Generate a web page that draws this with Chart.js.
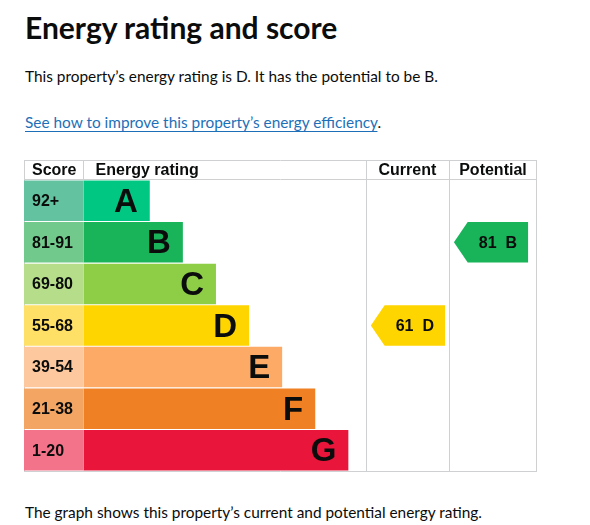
<!DOCTYPE html>
<html>
<head>
<meta charset="utf-8">
<script src="https://cdn.jsdelivr.net/npm/chart.js@4.4.1/dist/chart.umd.min.js"></script>
<style>
  body { margin: 0; background: #fff; color: #0b0c0c; font-family: Lato, "Noto Sans", sans-serif; }
  .txt { position: absolute; left: 25px; white-space: nowrap; }
  #title { top: 12px; font-size: 30px; line-height: 30px; font-weight: 700; }
  #intro { top: 68px; font-size: 15.4px; line-height: 16px; }
  #link { top: 114px; font-size: 15.4px; line-height: 16px; }
  #link a { color: #1d70b8; text-decoration: underline; text-underline-offset: 3px; }
  #foot { top: 504px; font-size: 15.4px; line-height: 16px; }
  #wrap { position: absolute; left: 14px; top: 150px; width: 534px; height: 331px; }
</style>
</head>
<body>
<div class="txt" id="title">Energy rating and score</div>
<div class="txt" id="intro">This property’s energy rating is D. It has the potential to be B.</div>
<div class="txt" id="link"><a href="#">See how to improve this property’s energy efficiency</a>.</div>
<div id="wrap"><canvas id="epcChart"></canvas></div>
<div class="txt" id="foot">The graph shows this property’s current and potential energy rating.</div>

<script>
// bands, top to bottom
var bands = ['A', 'B', 'C', 'D', 'E', 'F', 'G'];
var scoreLabels = ['92+', '81-91', '69-80', '55-68', '39-54', '21-38', '1-20'];
var bandMins = [92, 81, 69, 55, 39, 21, 1];
var bandLengths = [2, 3, 4, 5, 6, 7, 8];
var bandColors = ['#00c781', '#19b459', '#8dce46', '#ffd500', '#fcaa65', '#ef8023', '#e9153b'];
var scoreColors = ['#63c3a1', '#72c98c', '#b5dd8a', '#ffe066', '#fdc89e', '#f3a664', '#f2738a'];
var currentScore = 61;
var potentialScore = 81;

// x scale units: score column starts at -1.8, rating bars start at 0
var X_MIN = -1.8, X_MAX = 13.7;
var COL_CURRENT = 8.53, COL_POTENTIAL = 11.04;
var ARROW_INSET = 0.15, ARROW_LEN = 2.24;
var lineColor = '#cfd0d1';
var textColor = '#0b0c0c';

function bandFor(score) {
  for (var i = 0; i < bandMins.length; i++) {
    if (score >= bandMins[i]) return i;
  }
  return bandMins.length - 1;
}

var tablePlugin = {
  id: 'epcTable',
  beforeDatasetsDraw: function(chart) {
    var ctx = chart.ctx, a = chart.chartArea, xs = chart.scales.x;
    var top = a.top - 20;
    ctx.save();
    ctx.strokeStyle = lineColor;
    ctx.lineWidth = 1;
    ctx.beginPath();
    ctx.moveTo(a.left, top + 0.5); ctx.lineTo(a.right, top + 0.5);
    ctx.moveTo(a.left, a.top - 0.5); ctx.lineTo(a.right, a.top - 0.5);
    ctx.moveTo(a.left, a.bottom + 0.5); ctx.lineTo(a.right, a.bottom + 0.5);
    ctx.moveTo(a.left + 0.5, top); ctx.lineTo(a.left + 0.5, a.bottom);
    var x0 = Math.round(xs.getPixelForValue(0)) - 0.5;
    ctx.moveTo(x0, top); ctx.lineTo(x0, a.top);
    [COL_CURRENT, COL_POTENTIAL].forEach(function(v) {
      var x = Math.round(xs.getPixelForValue(v)) + 0.5;
      ctx.moveTo(x, top); ctx.lineTo(x, a.bottom);
    });
    ctx.moveTo(a.right - 0.5, top); ctx.lineTo(a.right - 0.5, a.bottom);
    ctx.stroke();

    // header
    ctx.fillStyle = textColor;
    ctx.font = 'bold 16px "Liberation Sans", Arial, sans-serif';
    ctx.textBaseline = 'middle';
    var hy = top + 11;
    ctx.textAlign = 'left';
    ctx.fillText('Score', a.left + 8, hy);
    ctx.fillText('Energy rating', xs.getPixelForValue(0) + 12, hy);
    ctx.textAlign = 'center';
    ctx.fillText('Current', (xs.getPixelForValue(COL_CURRENT) + xs.getPixelForValue(COL_POTENTIAL)) / 2, hy);
    ctx.fillText('Potential', (xs.getPixelForValue(COL_POTENTIAL) + a.right) / 2, hy);
    ctx.restore();
  },
  afterDatasetsDraw: function(chart) {
    var ctx = chart.ctx, a = chart.chartArea, xs = chart.scales.x;
    var scoreMeta = chart.getDatasetMeta(0);
    var bandMeta = chart.getDatasetMeta(1);
    ctx.save();
    ctx.fillStyle = textColor;
    ctx.textBaseline = 'middle';
    scoreMeta.data.forEach(function(bar, i) {
      ctx.font = 'bold 16px "Liberation Sans", Arial, sans-serif';
      ctx.textAlign = 'left';
      ctx.fillText(scoreLabels[i], a.left + 8, bar.y + 1);
    });
    bandMeta.data.forEach(function(bar, i) {
      ctx.font = 'bold 33px "Liberation Sans", Arial, sans-serif';
      ctx.textAlign = 'right';
      ctx.fillText(bands[i], bar.x - 12, bar.y + 2);
    });

    // current / potential arrows
    function arrow(score, colLeft) {
      var i = bandFor(score);
      var bar = bandMeta.data[i];
      var h = bar.height;
      var yc = bar.y;
      var tip = xs.getPixelForValue(colLeft + ARROW_INSET);
      var right = xs.getPixelForValue(colLeft + ARROW_INSET + ARROW_LEN);
      var notch = h * 0.34;
      ctx.fillStyle = bandColors[i];
      ctx.beginPath();
      ctx.moveTo(tip, yc);
      ctx.lineTo(tip + notch, yc - h / 2);
      ctx.lineTo(right, yc - h / 2);
      ctx.lineTo(right, yc + h / 2);
      ctx.lineTo(tip + notch, yc + h / 2);
      ctx.closePath();
      ctx.fill();
      ctx.fillStyle = textColor;
      ctx.font = 'bold 16px "Liberation Sans", Arial, sans-serif';
      ctx.textAlign = 'center';
      ctx.fillText(score + '\u00a0 ' + bands[i], (tip + notch + right) / 2, yc + 1);
    }
    arrow(currentScore, COL_CURRENT);
    arrow(potentialScore, COL_POTENTIAL);
    ctx.restore();
  }
};

new Chart(document.getElementById('epcChart'), {
  type: 'bar',
  data: {
    labels: bands,
    datasets: [{
      label: 'Score',
      data: bands.map(function() { return [X_MIN, 0]; }),
      backgroundColor: scoreColors,
      borderWidth: 0,
      grouped: false,
      barPercentage: 0.975,
      categoryPercentage: 1
    }, {
      label: 'Energy rating',
      data: bandLengths,
      backgroundColor: bandColors,
      borderWidth: 0,
      grouped: false,
      barPercentage: 0.975,
      categoryPercentage: 1
    }]
  },
  options: {
    indexAxis: 'y',
    responsive: true,
    maintainAspectRatio: false,
    animation: false,
    layout: { padding: { left: 10, right: 11, top: 30, bottom: 10 } },
    plugins: { legend: { display: false }, tooltip: { enabled: false } },
    scales: {
      x: { type: 'linear', min: X_MIN, max: X_MAX, display: false },
      y: { type: 'category', display: false }
    }
  },
  plugins: [tablePlugin]
});
</script>
</body>
</html>
